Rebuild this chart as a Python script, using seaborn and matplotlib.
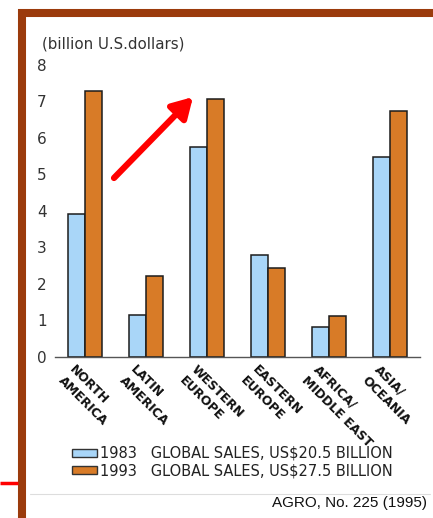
import matplotlib
matplotlib.use("Agg")
import matplotlib.pyplot as plt
import matplotlib.transforms as mtransforms
from matplotlib import font_manager
import seaborn as sns
import pandas as pd
from matplotlib.lines import Line2D

regions = ["NORTH\nAMERICA", "LATIN\nAMERICA", "WESTERN\nEUROPE",
           "EASTERN\nEUROPE", "AFRICA/\nMIDDLE EAST", "ASIA/\nOCEANIA"]
sales_1983 = [3.92, 1.15, 5.76, 2.78, 0.82, 5.48]
sales_1993 = [7.30, 2.22, 7.07, 2.45, 1.13, 6.74]
years = ["1983", "1993"]
legend_labels = ["1983   GLOBAL SALES, US\\$20.5 BILLION",
                 "1993   GLOBAL SALES, US\\$27.5 BILLION"]
y_ticks = [0, 1, 2, 3, 4, 5, 6, 7, 8]

df = pd.DataFrame({
    "region": regions * 2,
    "sales": sales_1983 + sales_1993,
    "year": [years[0]] * len(regions) + [years[1]] * len(regions),
})

sns.set_style("white")
plt.rcParams["font.family"] = ["DejaVu Sans"]

names = {f.name for f in font_manager.fontManager.ttflist}
narrow_ok = "Liberation Sans Narrow" in names
label_family = ["Liberation Sans Narrow"] if narrow_ok else ["DejaVu Sans"]
label_size = 10.5 if narrow_ok else 9.0

fig = plt.figure(figsize=(4.33, 5.18), dpi=100)
ax = fig.add_axes([0.127, 0.311, 0.843, 0.5635])

blue = "#a9d6f8"
orange = "#d87b27"
sns.barplot(data=df, x="region", y="sales", hue="year", palette=[blue, orange],
            width=0.56, gap=0, edgecolor="#1c1c1c", linewidth=1.1, ax=ax,
            legend=False, saturation=1)

ax.set_ylim(0, 8)
ax.set_xlim(-0.5, 5.5)
ax.set_yticks(y_ticks)
ax.set_yticklabels([str(t) for t in y_ticks], fontsize=11, color="#333333")
ax.tick_params(axis="y", length=0, pad=6)
ax.tick_params(axis="x", length=0, pad=4)
ax.set_xlabel("")
ax.set_ylabel("")
for s in ["top", "right", "left"]:
    ax.spines[s].set_visible(False)
ax.spines["bottom"].set_color("#555555")
ax.spines["bottom"].set_linewidth(1.0)

ax.set_xticks(range(len(regions)))
ax.set_xticklabels(regions, rotation=-45, ha="left", va="top",
                   rotation_mode="anchor", fontsize=label_size, fontweight="bold",
                   family=label_family, color="#111111", linespacing=1.35)
offset = mtransforms.ScaledTranslation(-9 / 100, 0, fig.dpi_scale_trans)
for lbl in ax.get_xticklabels():
    lbl.set_transform(lbl.get_transform() + offset)

fig.text(42 / 433, 1 - 44 / 518, "(billion U.S.dollars)", fontsize=10.8,
         color="#333333", ha="left", va="center")

# legend
handles = [plt.Rectangle((0, 0), 1, 1, facecolor=blue, edgecolor="#333333", linewidth=1),
           plt.Rectangle((0, 0), 1, 1, facecolor=orange, edgecolor="#333333", linewidth=1)]
fig.legend(handles, legend_labels, loc="center left",
           bbox_to_anchor=(72 / 433, 1 - 462 / 518), frameon=False,
           fontsize=10.5, handlelength=1.7, handleheight=0.45,
           handletextpad=0.2, labelspacing=0.15, borderaxespad=0, borderpad=0,
           labelcolor="#222222")

# separator line and source
fig.add_artist(Line2D([30 / 433, 430 / 433], [1 - 494 / 518, 1 - 494 / 518],
                      color="#dddddd", linewidth=0.8))
fig.text(427 / 433, 1 - 503 / 518, "AGRO, No. 225 (1995)", fontsize=11,
         ha="right", va="center", color="#111111",
         family=["Liberation Sans", "DejaVu Sans"])

# brown frame
brown = "#9b3b0c"
fig.add_artist(Line2D([18 / 433, 1.0], [1 - 13 / 518, 1 - 13 / 518],
                      color=brown, linewidth=5.8, solid_capstyle="butt"))
fig.add_artist(Line2D([22 / 433, 22 / 433], [1 - 9 / 518, 0.0],
                      color=brown, linewidth=5.8, solid_capstyle="butt"))
# red mark at bottom left
fig.add_artist(Line2D([0, 18 / 433], [1 - 483 / 518, 1 - 483 / 518],
                      color="#ff0000", linewidth=2.5, solid_capstyle="butt"))
# red arrow
x0, y0 = 114 / 433, 1 - 178 / 518
x1, y1 = 193 / 433, 1 - 97 / 518
ax.annotate("", xy=(x1, y1), xytext=(x0, y0), xycoords="figure fraction",
            textcoords="figure fraction",
            arrowprops=dict(arrowstyle="-|>,head_length=1.2,head_width=0.7",
                            color="#ff0000", lw=4.5, shrinkA=0, shrinkB=0))

fig.savefig("out.png", dpi=100)
